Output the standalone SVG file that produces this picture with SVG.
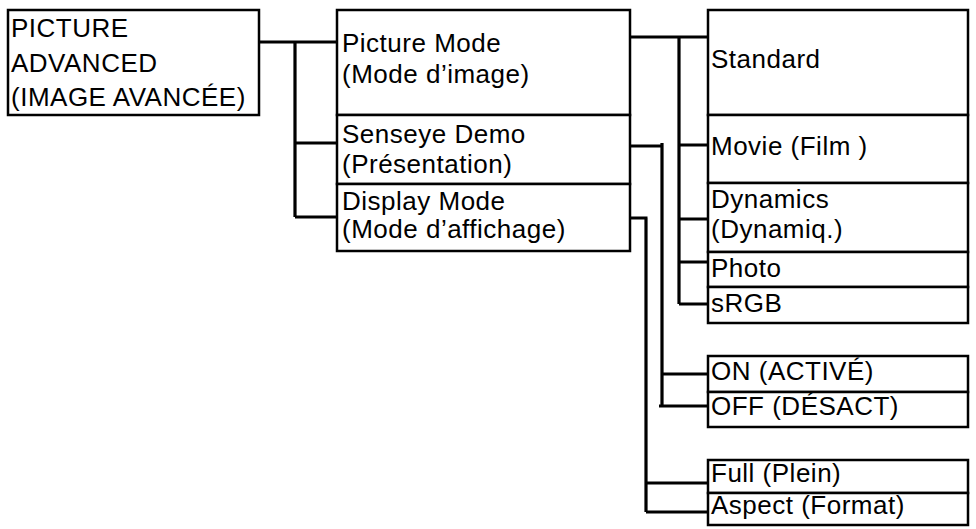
<svg xmlns="http://www.w3.org/2000/svg" width="976" height="529" viewBox="0 0 976 529">
<style>
.box{fill:#fff;stroke:#000;stroke-width:2.5}
.t{font-family:"Liberation Sans",Arial,sans-serif;font-size:26px;letter-spacing:0.5px;fill:#000}
.c{fill:none;stroke:#000;stroke-width:3.2}
</style>
<rect width="976" height="529" fill="#fff"/>
<g id="n-advanced">
<rect class="box" x="8" y="10" width="251" height="105"/>
<text class="t" x="11" y="37">PICTURE</text>
<text class="t" x="11" y="72">ADVANCED</text>
<text class="t" x="11" y="106">(IMAGE AVANCÉE)</text>
</g>
<g id="n-picture-mode">
<rect class="box" x="337" y="10" width="293" height="105"/>
<text class="t" x="342" y="52">Picture Mode</text>
<text class="t" x="342" y="83">(Mode d’image)</text>
</g>
<g id="n-senseye">
<rect class="box" x="337" y="115" width="293" height="69"/>
<text class="t" x="342" y="143">Senseye Demo</text>
<text class="t" x="342" y="173">(Présentation)</text>
</g>
<g id="n-display-mode">
<rect class="box" x="337" y="184" width="293" height="67"/>
<text class="t" x="342" y="210">Display Mode</text>
<text class="t" x="342" y="238">(Mode d’affichage)</text>
</g>
<g id="n-standard">
<rect class="box" x="708" y="10" width="260" height="105"/>
<text class="t" x="711" y="68">Standard</text>
</g>
<g id="n-movie">
<rect class="box" x="708" y="115" width="260" height="68"/>
<text class="t" x="711" y="155">Movie (Film )</text>
</g>
<g id="n-dynamics">
<rect class="box" x="708" y="183" width="260" height="69"/>
<text class="t" x="711" y="208">Dynamics</text>
<text class="t" x="711" y="238">(Dynamiq.)</text>
</g>
<g id="n-photo">
<rect class="box" x="708" y="252" width="260" height="35"/>
<text class="t" x="711" y="277">Photo</text>
</g>
<g id="n-srgb">
<rect class="box" x="708" y="287" width="260" height="36"/>
<text class="t" x="711" y="312">sRGB</text>
</g>
<g id="n-on">
<rect class="box" x="708" y="356" width="260" height="36"/>
<text class="t" x="711" y="380">ON (ACTIVÉ)</text>
</g>
<g id="n-off">
<rect class="box" x="708" y="392" width="260" height="35"/>
<text class="t" x="711" y="415">OFF (DÉSACT)</text>
</g>
<g id="n-full">
<rect class="box" x="708" y="460" width="260" height="33"/>
<text class="t" x="711" y="482">Full (Plein)</text>
</g>
<g id="n-aspect">
<rect class="box" x="708" y="493" width="260" height="32"/>
<text class="t" x="711" y="514">Aspect (Format)</text>
</g>
<g id="connectors">
<path class="c" d="M259,42 H338 M295,42 V217 M295,143 H338 M295,217 H338"/>
<path class="c" d="M630,37 H709 M679,37 V304 M679,145 H709 M679,219 H709 M679,262 H709 M679,304 H709"/>
<path class="c" d="M630,146 H663.5 M662,143 V406 M662,374 H709 M659,406 H709"/>
<path class="c" d="M630,218 H647.5 M646,218 V512 M646,483 H709 M646,512 H709"/>
</g>
</svg>
